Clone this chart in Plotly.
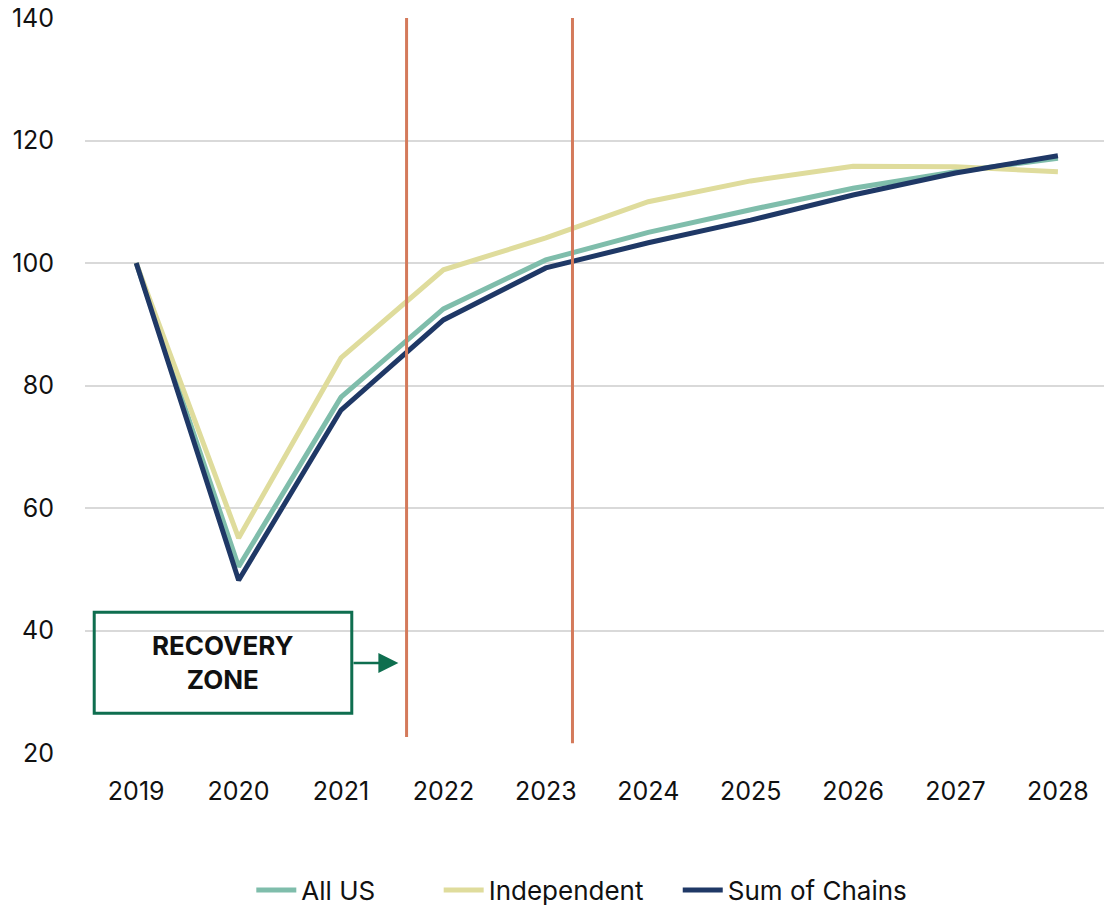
import plotly.graph_objects as go

years = ["2019", "2020", "2021", "2022", "2023", "2024", "2025", "2026", "2027", "2028"]
all_us = [100, 50.4, 78.1, 92.5, 100.5, 105.0, 108.7, 112.2, 114.9, 117.1]
independent = [100, 55.1, 84.5, 98.9, 104.1, 110.0, 113.4, 115.8, 115.7, 114.9]
sum_of_chains = [100, 48.2, 76.0, 90.7, 99.2, 103.3, 107.0, 111.1, 114.7, 117.5]

y_ticks = [20, 40, 60, 80, 100, 120, 140]
# positions of the two period markers, in category units
markers = [2.64, 4.26]

NB = "\u00a0"
SERIES = [
    ("All US" + NB * 8, all_us, "#7fbdab"),
    ("Independent" + NB * 4, independent, "#dfdc9c"),
    ("Sum of Chains", sum_of_chains, "#1f3866"),
]
FONT = "Inter, Lato, sans-serif"

fig = go.Figure()
for name, vals, color in SERIES:
    fig.add_trace(go.Scatter(
        x=list(range(len(years))), y=vals, name=name, mode="lines",
        line=dict(color=color, width=5),
    ))

for i, xm in enumerate(markers):
    fig.add_shape(type="line", x0=xm, x1=xm, y0=[22.6, 21.6][i], y1=[140.6, 140.0][i],
                  xref="x", yref="y", line=dict(color="#d47a5b", width=3), layer="above")

# recovery zone box and arrow
fig.add_shape(type="rect", x0=-0.41, x1=2.105, y0=26.5, y1=43.0, xref="x", yref="y",
              line=dict(color="#0e6e4f", width=3), fillcolor="rgba(0,0,0,0)")
fig.add_annotation(x=0.848, y=34.7, xref="x", yref="y", showarrow=False,
                   text="<b>RECOVERY<br>ZONE</b>", align="center",
                   font=dict(family=FONT, size=26, color="#111111"))
fig.add_annotation(x=2.56, y=34.7, ax=2.107, ay=34.7, xref="x", yref="y",
                   axref="x", ayref="y", text="", showarrow=True,
                   arrowhead=2, arrowsize=1.6, arrowwidth=2.5, arrowcolor="#0e6e4f")

fig.update_layout(
    width=1104, height=905,
    margin=dict(l=85, r=0, t=18, b=152),
    paper_bgcolor="white", plot_bgcolor="white",
    font=dict(family=FONT, size=25, color="#111111"),
    showlegend=True,
    legend=dict(orientation="h", xref="container", yref="container",
                x=0.527, xanchor="center", y=0.0166, yanchor="middle",
                font=dict(size=26), itemwidth=40, traceorder="normal"),
)
fig.update_xaxes(
    tickmode="array", tickvals=list(range(len(years))), ticktext=years,
    range=[-0.5, 9.45], showgrid=False, zeroline=False, showline=False,
    ticks="", ticklabelstandoff=21, automargin=False,
)
fig.update_yaxes(
    range=[20, 140], tickvals=y_ticks, showgrid=True, gridcolor="#d9d9d9",
    gridwidth=1.5, zeroline=False, showline=False, ticks="", ticklabelstandoff=30,
    automargin=False,
)

# drop the default 8px body margin so the figure sits at the page origin
fig.write_html("out.html", config={"displayModeBar": False},
               post_script="document.body.style.margin='0';")
